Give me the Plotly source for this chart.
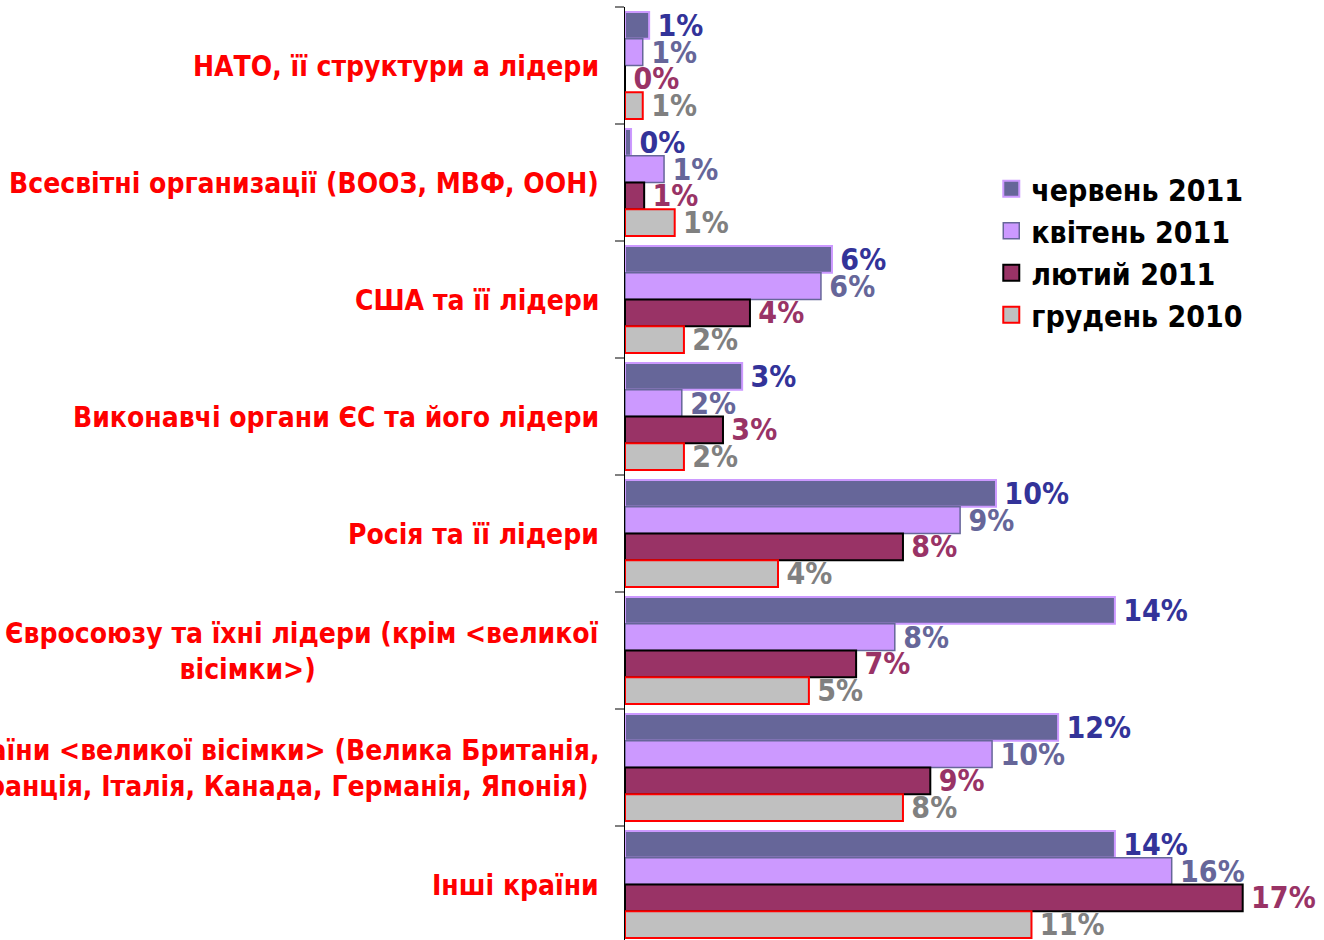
import plotly.graph_objects as go

categories = [
    "НАТО, її структури а лідери",
    "Всесвітні организації (ВООЗ, МВФ, ООН)",
    "США та її лідери",
    "Виконавчі органи ЄС та його лідери",
    "Росія та її лідери",
    "Країни Євросоюзу та їхні лідери (крім <великої<br>вісімки>)",
    "Країни <великої вісімки> (Велика Британія,<br>Франція, Італія, Канада, Германія, Японія)",
    "Інші країни",
]

series_names = ["червень 2011", "квітень 2011", "лютий 2011", "грудень 2010"]

# bar lengths (%)
june_2011 = [0.68, 0.17, 5.83, 3.3, 10.45, 13.8, 12.2, 13.8]
april_2011 = [0.5, 1.1, 5.52, 1.6, 9.44, 7.6, 10.34, 15.4]
feb_2011 = [0.0, 0.54, 3.52, 2.76, 7.83, 6.51, 8.6, 17.4]
dec_2010 = [0.5, 1.4, 1.66, 1.66, 4.31, 5.18, 7.83, 11.45]

# data labels as printed on the chart
june_labels = ["1%", "0%", "6%", "3%", "10%", "14%", "12%", "14%"]
april_labels = ["1%", "1%", "6%", "2%", "9%", "8%", "10%", "16%"]
feb_labels = ["0%", "1%", "4%", "3%", "8%", "7%", "9%", "17%"]
dec_labels = ["1%", "1%", "2%", "2%", "4%", "5%", "8%", "11%"]

values = [june_2011, april_2011, feb_2011, dec_2010]
labels = [june_labels, april_labels, feb_labels, dec_labels]
fills = ["#666699", "#CC99FF", "#993366", "#C0C0C0"]
outlines = ["#CC99FF", "#666699", "#000000", "#FF0000"]
outline_w = [2, 1.5, 2, 2]
label_colors = ["#333399", "#666699", "#993366", "#808080"]

FONT = "DejaVu Sans Condensed"
ypos = list(range(len(categories)))

fig = go.Figure()
for name, v, lab, fc, oc, ow, lc in zip(series_names, values, labels, fills, outlines, outline_w, label_colors):
    fig.add_trace(go.Bar(
        name=name,
        y=ypos,
        x=v,
        orientation="h",
        marker=dict(color=fc, line=dict(color=oc, width=ow)),
        text=["\u2009" + t for t in lab],
        textposition="outside",
        textfont=dict(family=FONT, size=30, color=lc, weight="bold"),
        constraintext="none",
        cliponaxis=False,
        showlegend=False,
        hoverinfo="skip",
    ))

# legend entries with larger square swatches
for name, fc, oc, ow in zip(series_names, fills, outlines, outline_w):
    fig.add_trace(go.Scatter(
        name=name, x=[None], y=[None], mode="markers",
        marker=dict(symbol="square", size=16, color=fc, line=dict(color=oc, width=ow)),
        showlegend=True,
    ))

for i, c in enumerate(categories):
    fig.add_annotation(
        x=0, xref="paper", xanchor="right", xshift=-24,
        y=i, yref="y", yanchor="middle", yshift=-1,
        text=c, showarrow=False, align="center",
        font=dict(family=FONT, size=28, color="#FF0000", weight="bold"),
    )

fig.update_layout(
    width=1324, height=940,
    margin=dict(l=625, r=0, t=7, b=0),
    paper_bgcolor="white", plot_bgcolor="white",
    barmode="group", bargap=0.085, bargroupgap=0,
    showlegend=True,
    hovermode=False,
    legend=dict(
        x=0.524, y=0.833, xanchor="left", yanchor="top",
        font=dict(family=FONT, size=30, color="#000000", weight="bold"),
        bgcolor="rgba(0,0,0,0)", tracegroupgap=0, itemwidth=30,
    ),
)
fig.update_xaxes(range=[0, 699 / 35.5], visible=False)
fig.update_yaxes(
    range=[-0.5 + 933 / 117, -0.5],
    tickvals=[i - 0.5 for i in range(len(categories) + 1)],
    showticklabels=False, ticks="outside", ticklen=9, tickcolor="#808080", tickwidth=1.5,
    showline=True, linecolor="#000000", linewidth=1.5, showgrid=False, zeroline=False,
)

fig.write_html(
    "out.html",
    config={"displayModeBar": False, "staticPlot": True},
    post_script="document.body.style.margin='0';document.body.style.overflow='hidden';",
)
